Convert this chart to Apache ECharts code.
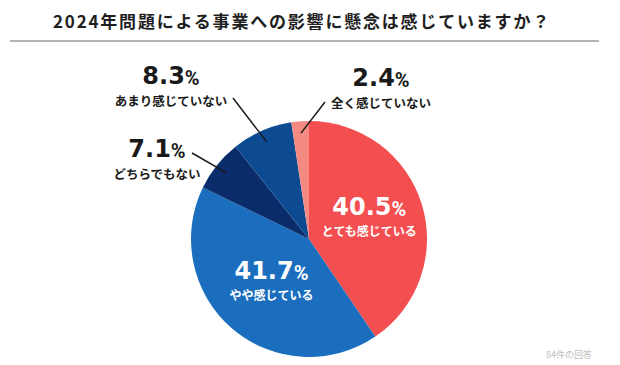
<!DOCTYPE html>
<html><head><meta charset="utf-8">
<script src="https://cdn.jsdelivr.net/npm/echarts@6/dist/echarts.min.js"></script>
<style>
html,body{margin:0;padding:0;background:#fff;}
#c{width:620px;height:365px;}
text[style*="ttlfont"]{letter-spacing:1.8px;}
</style></head><body><div id="c"></div>
<script>
// ---- data ----
const titleText = '2024年問題による事業への影響に懸念は感じていますか？';
const categories = ['とても感じている', 'やや感じている', 'どちらでもない', 'あまり感じていない', '全く感じていない'];
const values = [40.5, 41.7, 7.1, 8.3, 2.4];
const footnote = '84件の回答';

// ---- styles / layout ----
const colors = ['#f34e50', '#1a6ebd', '#0b2c6a', '#0c4a92', '#f58a82'];
const CX = 309, CY = 239, R = 118;
const insideLabel = [true, true, false, false, false];
const outsidePos = {
  2: { x: 157, y: 159, lx: 192, ly: 153 },
  3: { x: 171, y: 86, lx: 233, ly: 98 },
  4: { x: 381, y: 88, lx: 325, ly: 102 }
};
const insideNudge = { 0: { dx: 1, dy: -4 }, 1: { dx: 3, dy: -5 } };

const total = values.reduce((a, b) => a + b, 0);
const midAngles = [];
let acc = 0;
values.forEach(v => { midAngles.push((acc + v / 2) / total * 2 * Math.PI); acc += v; });

const chart = echarts.init(document.getElementById('c'), null, { renderer: 'svg' });

function rich(color, subSize) {
  return {
    num: { fontFamily: 'DejaVu Sans', fontWeight: 'bold', fontSize: 24, lineHeight: 28, verticalAlign: 'bottom', color: color },
    pct: { fontFamily: 'Roboto', fontWeight: 'bold', fontSize: 20, lineHeight: 23, verticalAlign: 'bottom', color: color },
    sub: { fontFamily: '"Noto Sans CJK JP"', fontWeight: 'bold', fontSize: subSize, lineHeight: 24, color: color }
  };
}

const leaderLines = Object.keys(outsidePos).map(k => {
  const i = +k, a = midAngles[i], r = R * 0.9;
  return {
    type: 'line', silent: true, z: 100,
    shape: { x1: CX + r * Math.sin(a), y1: CY - r * Math.cos(a), x2: outsidePos[i].lx, y2: outsidePos[i].ly },
    style: { stroke: '#1a1a1a', lineWidth: 1.5 }
  };
});

chart.setOption({
  animation: false,
  graphic: [
    { type: 'text', x: 302, y: 20, style: { text: titleText, fontFamily: '"Noto Sans CJK JP", ttlfont', fontWeight: 'bold', fontSize: 17, fill: '#1e1e1e', textAlign: 'center', textVerticalAlign: 'middle' } },
    { type: 'line', shape: { x1: 10, y1: 41, x2: 599, y2: 41 }, style: { stroke: '#b3b3b3', lineWidth: 2 } },
    { type: 'text', x: 569, y: 354, style: { text: footnote, fontFamily: '"Noto Sans CJK JP"', fontSize: 9, fill: '#bdbdbd', textAlign: 'center', textVerticalAlign: 'middle' } }
  ].concat(leaderLines),
  series: [{
    type: 'pie',
    center: [CX, CY],
    radius: R,
    startAngle: 90,
    clockwise: true,
    avoidLabelOverlap: false,
    silent: true,
    itemStyle: { borderWidth: 0 },
    label: { show: true, position: 'inside' },
    labelLine: { show: false },
    labelLayout: function (p) {
      const i = p.dataIndex;
      if (outsidePos[i]) return { x: outsidePos[i].x, y: outsidePos[i].y, align: 'center', verticalAlign: 'middle' };
      return { dx: insideNudge[i].dx, dy: insideNudge[i].dy };
    },
    data: values.map((v, i) => ({
      value: v,
      name: categories[i],
      itemStyle: { color: colors[i] },
      label: {
        color: insideLabel[i] ? '#fff' : '#1a1a1a',
        align: 'center',
        rich: insideLabel[i] ? rich('#fff', 12) : rich('#1a1a1a', 12.5),
        formatter: function (p) { return '{num|' + p.value.toFixed(1) + '}{pct|%}\n{sub|' + p.name + '}'; }
      }
    }))
  }]
});
</script></body></html>
